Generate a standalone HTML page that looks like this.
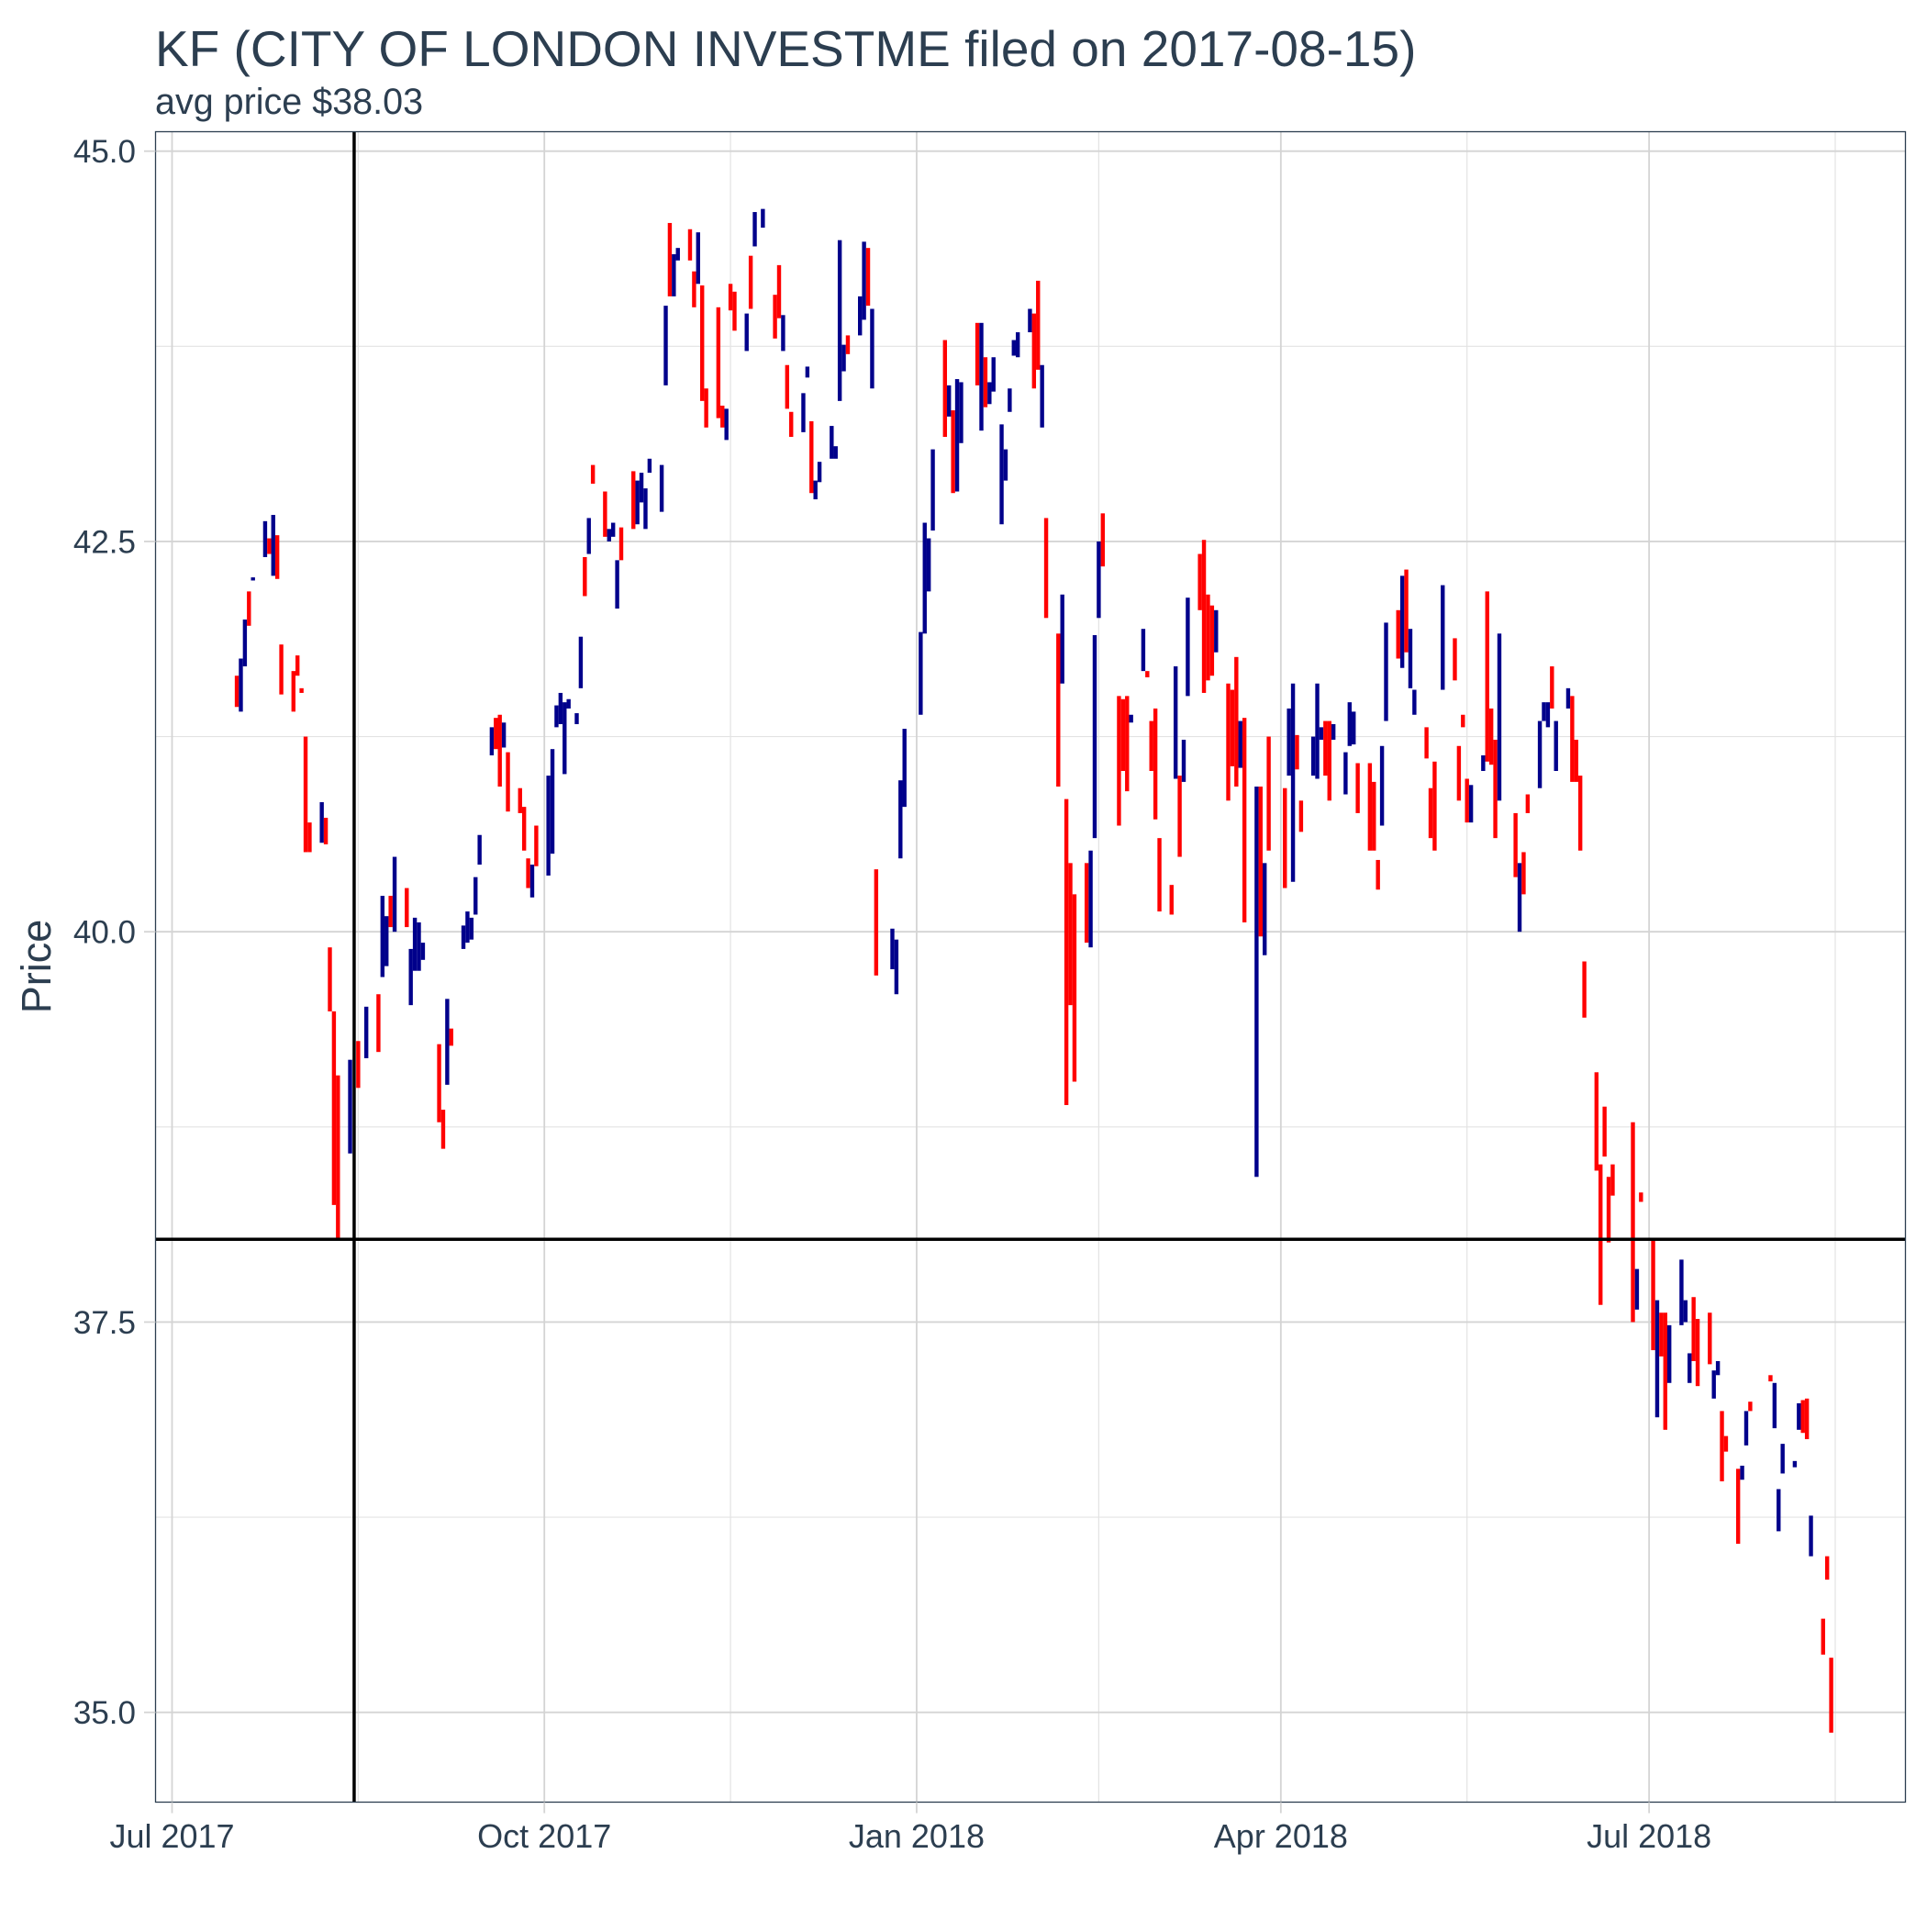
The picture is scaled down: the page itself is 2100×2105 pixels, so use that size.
<!DOCTYPE html>
<html><head><meta charset="utf-8"><style>
html,body{margin:0;padding:0;background:#fff;}
svg text{font-family:"Liberation Sans",Arial,sans-serif;}
</style></head><body>
<svg id="chart" width="2100" height="2100" viewBox="0 0 2100 2100" xmlns="http://www.w3.org/2000/svg">
<rect x="0" y="0" width="2100" height="2100" fill="#fff"/>
<text x="169" y="72" font-size="55" fill="#2c3e50">KF (CITY OF LONDON INVESTME filed on 2017-08-15)</text>
<text x="169" y="124" font-size="39.5" fill="#2c3e50">avg price $38.03</text>
<g id="grid"></g>
<g id="bars"></g>
<g id="refs"></g>
<rect x="169.5" y="143.5" width="1907" height="1820" fill="none" stroke="#2c3e50" stroke-width="1.3"/>
<g id="axes"></g>
<text transform="translate(55,1053) rotate(-90)" text-anchor="middle" font-size="45" fill="#2c3e50">Price</text>
</svg>
<script>
// day offsets from 2017-07-01
const days=[16,17,18,19,20,23,24,25,26,27,30,31,32,33,34,37,38,39,40,41,44,46,48,51,52,53,54,55,58,59,60,61,62,66,67,68,69,72,73,74,75,76,79,80,81,82,83,86,87,88,89,90,93,94,95,96,97,98,100,101,102,103,104,107,108,109,110,111,114,115,116,117,118,121,122,123,124,125,128,129,130,131,132,135,136,137,138,139,142,143,144,146,149,150,151,152,153,156,157,158,159,160,163,164,165,166,167,170,171,172,173,174,178,179,180,181,185,186,187,188,191,192,193,194,195,199,200,201,202,203,205,206,207,208,209,212,213,214,215,216,219,220,221,222,223,226,227,228,229,230,234,235,236,237,240,241,242,243,244,247,248,249,250,251,254,255,256,257,258,261,262,263,264,265,268,269,270,271,275,276,277,278,279,282,283,284,285,286,287,290,291,292,293,296,297,298,299,300,303,304,305,306,307,310,311,312,314,317,318,319,320,321,324,325,326,327,328,332,333,334,335,338,339,340,341,342,345,346,347,348,349,352,353,354,355,356,361,362,363,366,367,368,369,370,373,374,375,376,377,380,381,382,383,384,387,388,389,390,395,396,397,398,401,402,403,404,405,408,409,410];
const highs=[41.64,41.75,42.0,42.18,42.27,42.63,42.52,42.67,42.54,41.84,41.67,41.77,41.56,41.25,40.70,40.83,40.73,39.9,39.49,39.08,39.18,39.30,39.52,39.6,40.23,40.1,40.23,40.48,40.28,39.89,40.09,40.06,39.93,39.28,38.86,39.57,39.38,40.04,40.13,40.09,40.35,40.62,41.31,41.37,41.39,41.34,41.15,40.92,40.8,40.47,40.43,40.68,41.0,41.17,41.45,41.53,41.47,41.49,41.4,41.89,42.40,42.65,42.99,42.82,42.58,42.62,42.38,42.59,42.95,42.89,42.94,42.84,43.03,42.99,44.01,44.54,44.34,44.38,44.5,44.23,44.48,44.14,43.48,44.0,43.37,43.35,44.15,44.1,43.96,44.33,44.61,44.63,44.08,44.27,43.95,43.63,43.33,43.45,43.62,43.27,42.89,43.01,43.24,43.11,44.43,43.76,43.82,44.07,44.42,44.38,43.99,40.4,40.02,39.95,40.97,41.30,41.92,42.62,42.52,43.09,43.79,43.5,43.34,43.54,43.52,43.9,43.9,43.68,43.52,43.68,43.25,43.09,43.48,43.79,43.84,43.99,43.96,44.17,43.63,42.65,41.91,42.16,40.85,40.44,40.24,40.44,40.52,41.9,42.5,42.68,41.51,41.49,41.51,41.39,41.94,41.67,41.35,41.43,40.6,40.3,41.7,41.0,41.23,42.14,42.42,42.51,42.16,42.09,42.06,41.59,41.55,41.76,41.35,41.37,40.93,40.93,40.44,41.25,40.92,41.43,41.59,41.26,40.84,41.25,41.59,41.31,41.35,41.35,41.33,41.15,41.47,41.41,41.08,41.08,40.96,40.46,41.19,41.98,42.06,42.28,42.32,41.94,41.55,41.31,40.92,41.09,42.22,41.88,41.19,41.39,40.98,40.94,41.13,42.18,41.43,41.23,41.91,40.76,40.44,40.51,40.88,41.35,41.47,41.47,41.7,41.35,41.56,41.51,41.23,41.0,39.81,39.1,38.51,38.88,38.43,38.51,38.78,37.84,38.33,38.03,37.64,37.56,37.56,37.48,37.9,37.64,37.3,37.66,37.52,37.56,37.19,37.25,36.93,36.77,36.56,36.58,36.93,36.99,37.16,37.11,36.43,36.72,36.61,36.98,37.0,37.01,36.26,35.6,36.0,35.35];
const lows=[41.44,41.41,41.7,41.96,42.25,42.4,42.42,42.28,42.26,41.52,41.41,41.64,41.53,40.51,40.51,40.57,40.56,39.49,38.25,38.03,38.58,39.0,39.19,39.23,39.71,39.78,40.03,40.0,40.03,39.53,39.75,39.75,39.82,38.78,38.61,39.02,39.27,39.89,39.93,39.95,40.11,40.43,41.13,41.17,40.93,41.18,40.77,40.76,40.52,40.28,40.22,40.42,40.36,40.5,41.31,41.33,41.01,41.43,41.33,41.56,42.15,42.42,42.87,42.53,42.5,42.53,42.07,42.38,42.58,42.61,42.75,42.58,42.94,42.69,43.5,44.07,44.07,44.3,44.3,44.0,44.15,43.4,43.23,43.29,43.23,43.15,43.98,43.85,43.72,43.99,44.39,44.51,43.8,43.93,43.72,43.35,43.17,43.2,43.55,42.81,42.77,42.88,43.03,43.03,43.4,43.59,43.7,43.82,43.92,44.01,43.48,39.72,39.76,39.6,40.47,40.8,41.39,41.91,42.18,42.57,43.17,43.3,42.81,42.82,43.13,43.5,43.21,43.36,43.38,43.46,42.61,42.89,43.33,43.69,43.68,43.84,43.48,43.6,43.23,42.01,40.93,41.59,38.89,39.53,39.04,39.93,39.9,40.6,42.01,42.34,40.68,41.03,40.9,41.34,41.67,41.63,41.03,40.72,40.13,40.11,40.98,40.48,40.96,41.51,42.06,41.53,41.61,41.64,41.79,40.84,41.06,40.93,41.05,40.06,38.43,39.97,39.85,40.52,40.28,41.0,40.32,41.04,40.64,41.0,40.98,41.23,41.0,40.84,41.23,40.88,41.19,41.2,40.76,40.52,40.52,40.27,40.68,41.35,41.75,41.69,41.79,41.56,41.39,41.11,40.6,40.52,41.55,41.61,40.84,41.31,40.7,40.7,41.03,41.09,41.07,40.6,40.84,40.35,40.0,40.24,40.76,40.92,41.35,41.31,41.43,41.03,41.43,40.96,40.96,40.52,39.45,38.47,37.61,38.56,38.01,38.31,37.5,37.58,38.27,37.32,36.89,37.28,36.81,37.11,37.48,37.5,37.11,37.25,37.09,37.23,37.01,37.16,36.48,36.67,36.08,36.49,36.71,36.93,37.12,36.82,36.16,36.53,36.57,36.81,36.79,36.75,36.0,35.37,35.85,34.87];
// 1 = up (blue), 0 = down (red)
const upFlags=[0,1,1,0,1,1,0,1,0,0,0,0,0,0,0,1,0,0,0,0,1,0,1,0,1,1,0,1,0,1,1,1,1,0,0,1,0,1,1,1,1,1,1,0,0,1,0,0,0,0,1,0,1,1,1,1,1,1,1,1,0,1,0,0,1,1,1,0,0,1,1,1,1,1,1,0,1,1,0,0,1,0,0,0,0,1,0,0,1,0,1,1,0,0,1,0,0,1,1,0,1,1,1,1,1,1,0,1,1,0,1,0,1,1,1,1,1,1,1,1,0,1,0,1,1,0,1,0,1,1,1,1,1,1,1,1,0,0,1,0,0,1,0,0,0,0,1,1,1,0,0,0,0,1,1,0,0,0,0,0,1,0,1,1,0,0,0,0,1,0,0,0,1,0,1,0,1,0,0,1,1,0,0,1,1,1,0,0,1,1,1,1,0,0,0,0,1,1,0,1,0,1,1,0,0,0,1,0,0,0,0,1,1,0,0,0,1,0,1,0,0,1,1,1,0,1,1,0,0,0,0,0,0,0,0,0,0,1,0,0,1,0,0,1,1,1,1,0,0,0,1,1,0,0,0,1,1,0,0,1,1,1,1,1,0,0,1,0,0];
const yTicks=[35,37.5,40,42.5,45];
const yTickLabels=["35.0","37.5","40.0","42.5","45.0"];
const yMinor=[36.25,38.75,41.25,43.75];
const xTicks=[0,92,184,274,365];
const xTickLabels=["Jul 2017","Oct 2017","Jan 2018","Apr 2018","Jul 2018"];
const xMinor=[46,138,229,320,411];
const filingDay=45;
const avgPrice=38.03;

const X0=169.5,X1=2076.5,Y0=143.5,Y1=1963.5;
function xs(d){return 187.5+d*4.41;}
function ys(v){return 164.7+(45-v)*170.1;}
const NS="http://www.w3.org/2000/svg";
function mk(tag,attrs,parent){const e=document.createElementNS(NS,tag);for(const k in attrs)e.setAttribute(k,attrs[k]);parent.appendChild(e);return e;}
const grid=document.getElementById('grid'),bars=document.getElementById('bars'),refs=document.getElementById('refs'),axes=document.getElementById('axes');
yMinor.forEach(v=>{const l=mk('line',{x1:X0,x2:X1,y1:ys(v),y2:ys(v),stroke:'#e3e3e3','stroke-width':1.2},grid);

});
xMinor.forEach(d=>{const l=mk('line',{x1:xs(d),x2:xs(d),y1:Y0,y2:Y1,stroke:'#e3e3e3','stroke-width':1.2},grid);

});
yTicks.forEach((v,i)=>{const l=mk('line',{x1:X0,x2:X1,y1:ys(v),y2:ys(v),stroke:'#d4d4d4','stroke-width':1.8},grid);


const t=mk('line',{x1:157,x2:X0,y1:ys(v),y2:ys(v),stroke:'#d4d4d4','stroke-width':1.8},axes);


const tx=mk('text',{x:148,y:ys(v)+12.5,'text-anchor':'end','font-size':35,fill:'#2c3e50'},axes);tx.textContent=yTickLabels[i];

});
xTicks.forEach((d,i)=>{const l=mk('line',{x1:xs(d),x2:xs(d),y1:Y0,y2:Y1,stroke:'#d4d4d4','stroke-width':1.8},grid);


const t=mk('line',{x1:xs(d),x2:xs(d),y1:Y1,y2:Y1+12,stroke:'#d4d4d4','stroke-width':1.8},axes);


const tx=mk('text',{x:xs(d),y:2013,'text-anchor':'middle','font-size':36,fill:'#2c3e50'},axes);tx.textContent=xTickLabels[i];

});
days.forEach((d,i)=>{const y1=ys(highs[i]),y2=ys(lows[i]);
const r=mk('rect',{x:xs(d)-2.2,y:y1,width:4.4,height:Math.max(2,y2-y1),fill:upFlags[i]?'#00008b':'#ff0000'},bars);

});
const vl=mk('line',{x1:xs(filingDay),x2:xs(filingDay),y1:Y0,y2:Y1,stroke:'#000','stroke-width':3.5},refs);


const hl=mk('line',{x1:X0,x2:X1,y1:ys(avgPrice),y2:ys(avgPrice),stroke:'#000','stroke-width':3.5},refs);


</script>
</body></html>
